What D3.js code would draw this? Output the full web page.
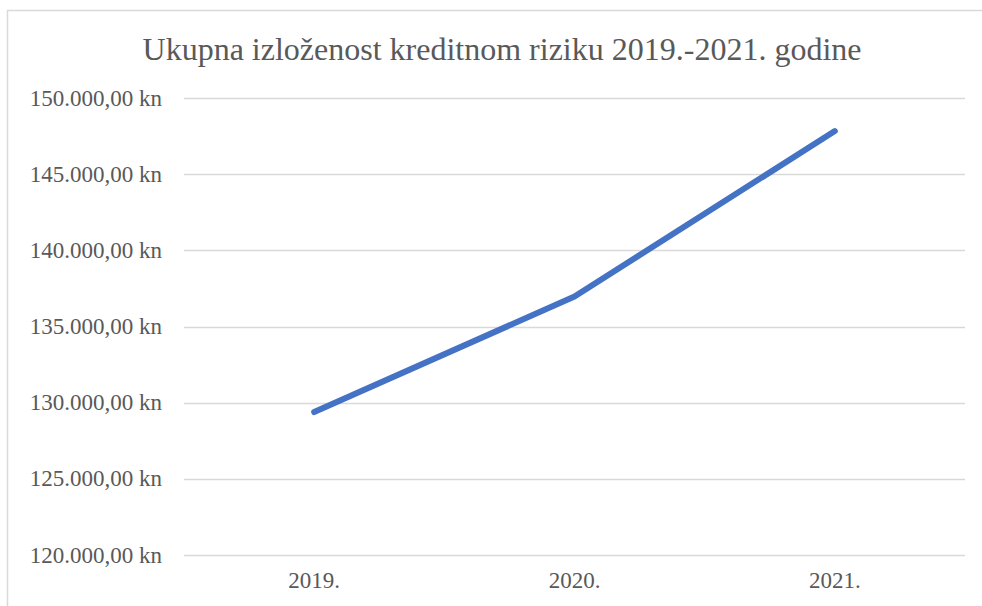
<!DOCTYPE html>
<meta charset="utf-8">
<script src="https://d3js.org/d3.v7.min.js"></script>
<style>
  body { margin: 0; background: #fff; }
  svg text { font-family: "Liberation Serif", "Times New Roman", serif; }
</style>
<div id="chart"></div>
<script>
// data
var years = ["2019.", "2020.", "2021."];
var values = [129380, 136970, 147830];
var yTicks = [120000, 125000, 130000, 135000, 140000, 145000, 150000];

var W = 982, H = 606;
var margin = {top: 98, right: 17, bottom: 51, left: 184};

var svg = d3.select("#chart").append("svg")
    .attr("width", W)
    .attr("height", H);

// chart frame (right and bottom edges are off the picture)
svg.append("rect")
    .attr("x", 7.5).attr("y", 10.5)
    .attr("width", W + 20).attr("height", H + 20)
    .attr("fill", "none")
    .attr("stroke", "#d9d9d9")
    .attr("stroke-width", 1.5);

var x = d3.scaleBand()
    .domain(years)
    .range([margin.left, W - margin.right]);

var y = d3.scaleLinear()
    .domain([120000, 150000])
    .range([H - margin.bottom, margin.top]);

// gridlines
svg.append("g")
  .selectAll("line")
  .data(yTicks)
  .enter().append("line")
    .attr("x1", margin.left)
    .attr("x2", W - margin.right)
    .attr("y1", function(d) { return Math.round(y(d)) + 0.5; })
    .attr("y2", function(d) { return Math.round(y(d)) + 0.5; })
    .attr("stroke", "#d9d9d9")
    .attr("stroke-width", 1.5);

// y labels, Croatian number format
var fmt = function(d) {
    var s = d3.format(",.2f")(d);
    return s.replace(/,/g, "#").replace(".", ",").replace(/#/g, ".") + " kn";
};
svg.append("g")
  .selectAll("text")
  .data(yTicks)
  .enter().append("text")
    .attr("x", 162)
    .attr("y", function(d) { return y(d); })
    .attr("dy", "0.33em")
    .attr("text-anchor", "end")
    .style("font-size", "23px")
    .attr("fill", "#595959")
    .text(fmt);

// x labels
svg.append("g")
  .selectAll("text")
  .data(years)
  .enter().append("text")
    .attr("x", function(d) { return x(d) + x.bandwidth() / 2; })
    .attr("y", 588)
    .attr("text-anchor", "middle")
    .style("font-size", "23px")
    .attr("fill", "#595959")
    .text(function(d) { return d; });

// line
var line = d3.line()
    .x(function(d, i) { return x(years[i]) + x.bandwidth() / 2; })
    .y(function(d) { return y(d); });

svg.append("path")
    .datum(values)
    .attr("d", line)
    .attr("fill", "none")
    .attr("stroke", "#4472c4")
    .attr("stroke-width", 6)
    .attr("stroke-linecap", "round")
    .attr("stroke-linejoin", "round");

// title
svg.append("text")
    .attr("x", 502)
    .attr("y", 60)
    .attr("text-anchor", "middle")
    .style("font-size", "32px")
    .attr("fill", "#595959")
    .text("Ukupna izloženost kreditnom riziku 2019.-2021. godine");
</script>
